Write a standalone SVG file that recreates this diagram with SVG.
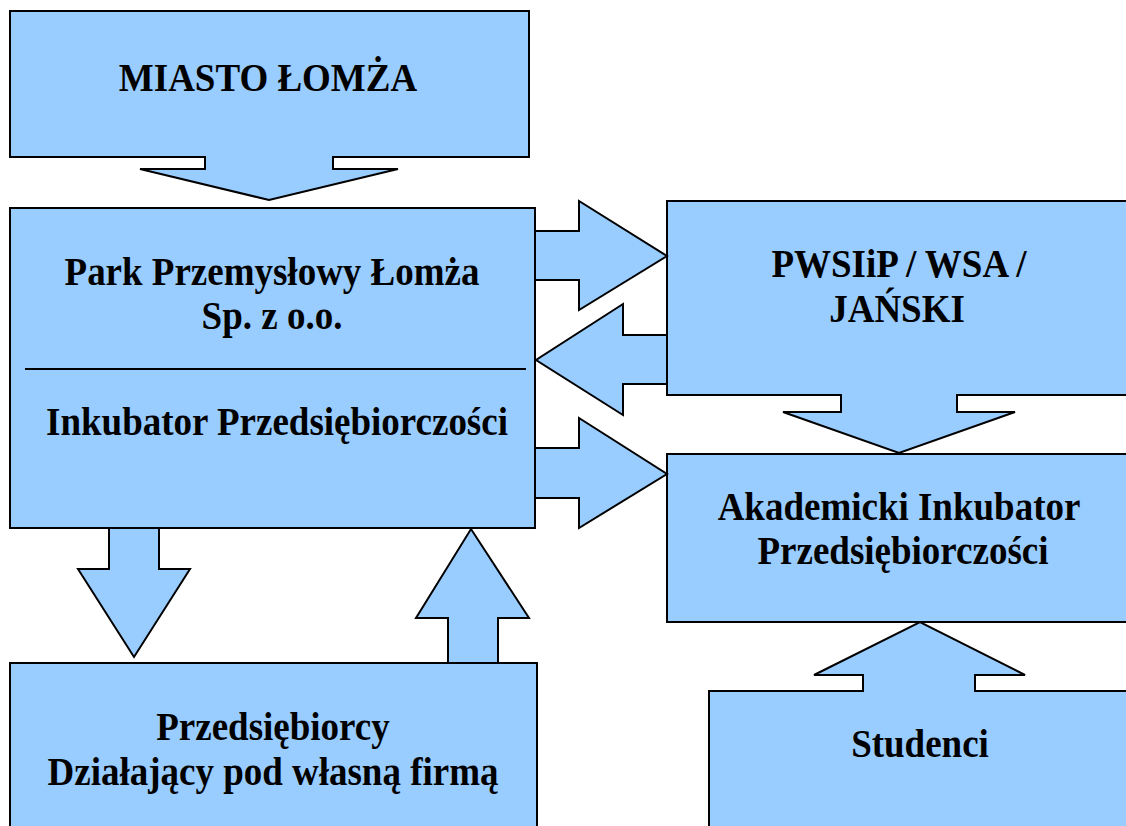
<svg xmlns="http://www.w3.org/2000/svg" width="1126" height="826" viewBox="0 0 1126 826">
<style>
.box{fill:#99CCFF;stroke:#000;stroke-width:2}
.arr{fill:#99CCFF;stroke:#000;stroke-width:2;stroke-linejoin:miter}
.cov{fill:#99CCFF;stroke:none}
.t{font-family:"Liberation Serif","Times New Roman",serif;font-weight:bold;font-size:37px;fill:#000;text-anchor:middle}
</style>
<rect width="1126" height="826" fill="#fff"/>
<g id="miasto">
<rect class="box" x="10" y="11" width="519" height="146"/>
<text class="t" transform="translate(268 91) scale(1 1.1)">MIASTO ŁOMŻA</text>
</g>
<g id="park">
<rect class="box" x="10" y="208" width="525" height="320"/>
<line x1="25" y1="369" x2="526" y2="369" stroke="#000" stroke-width="2"/>
<text class="t" transform="translate(272 285) scale(1 1.1)">Park Przemysłowy Łomża</text>
<text class="t" transform="translate(272 329) scale(1 1.1)">Sp. z o.o.</text>
<text class="t" transform="translate(277 435) scale(1 1.1)">Inkubator Przedsiębiorczości</text>
</g>
<g id="pwsiip">
<rect class="box" x="667" y="201" width="470" height="194"/>
<text class="t" transform="translate(899 277) scale(1 1.1)">PWSIiP / WSA /</text>
<text class="t" transform="translate(897 322) scale(1 1.1)">JAŃSKI</text>
</g>
<g id="akademicki">
<rect class="box" x="667" y="454" width="470" height="168"/>
<text class="t" transform="translate(899 520) scale(1 1.1)">Akademicki Inkubator</text>
<text class="t" transform="translate(903 564) scale(1 1.1)">Przedsiębiorczości</text>
</g>
<g id="przedsiebiorcy">
<rect class="box" x="10" y="663" width="527" height="175"/>
<text class="t" transform="translate(273 740) scale(1 1.1)">Przedsiębiorcy</text>
<text class="t" transform="translate(273 785) scale(1 1.1)">Działający pod własną firmą</text>
</g>
<g id="studenci">
<rect class="box" x="709" y="691" width="430" height="150"/>
<text class="t" transform="translate(920 757) scale(1 1.1)">Studenci</text>
</g>
<g id="connectors">
<path class="arr" d="M205,157 L205,169 L140,169 L269,200 L398,169 L333,169 L333,157"/>
<rect class="cov" x="206" y="154" width="126" height="5"/>
<path class="arr" d="M535,231 L579,231 L579,201 L667,256 L579,310 L579,280 L535,280 Z"/>
<path class="arr" d="M667,335 L623,335 L623,304 L536,360 L623,415 L623,384 L667,384 Z"/>
<path class="arr" d="M535,448 L579,448 L579,418 L667,474 L579,528 L579,498 L535,498 Z"/>
<path class="arr" d="M841,395 L841,412 L783,412 L899,453 L1015,412 L957,412 L957,395"/>
<rect class="cov" x="842" y="392" width="114" height="5"/>
<path class="arr" d="M863,691 L863,675 L814,675 L920,622 L1025,675 L975,675 L975,691"/>
<rect class="cov" x="864" y="689" width="110" height="5"/>
<path class="arr" d="M109,528 L109,569 L78,569 L134,657 L190,569 L159,569 L159,528 Z"/>
<path class="arr" d="M448,663 L448,618 L416,618 L471,529 L529,618 L498,618 L498,663 Z"/>
</g>
</svg>
